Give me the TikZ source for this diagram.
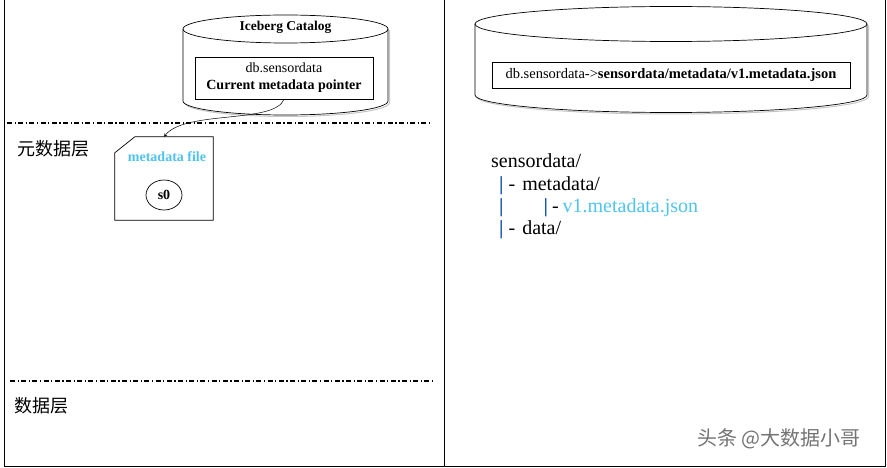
\documentclass[tikz,border=0pt]{standalone}
\usepackage{fontspec}
\setmainfont{Liberation Serif}
\newfontfamily\cjk{Noto Sans CJK SC}
\usetikzlibrary{shapes.geometric,positioning}
\definecolor{filecyan}{RGB}{79,195,240}
\definecolor{pipeblue}{RGB}{20,85,175}
\newcommand{\treepipe}{\textcolor{pipeblue}{\bfseries|}}

\begin{document}
\begin{tikzpicture}[x=1pt, y=-1pt, every node/.style={align=center, inner sep=0pt}, >=stealth]
    % 样式
    \tikzstyle{pointer} = [rectangle, draw=black, line width=0.8pt, fill=white]
    \tikzstyle{file} = [rectangle, minimum width=98pt, minimum height=83pt]
    \tikzstyle{layer} = [line width=1.4pt, dash pattern=on 5pt off 2.5pt on 1.2pt off 2.5pt]
    \tikzstyle{tree} = [anchor=base west, font=\fontsize{20}{24}\selectfont]
    \tikzstyle{zh} = [font=\cjk\fontsize{18}{20}\selectfont]
    \tikzstyle{arrow} = [->, line width=0.5pt]

    \useasboundingbox (0,0) rectangle (887,468);

    % 外框
    \draw[line width=1pt] (4,0) -- (4,466) -- (885,466) -- (885,0);
    \draw[line width=1pt] (444,0) -- (444,466);

    % 左侧 Catalog
    \draw[gray!45, line width=1pt, xshift=1.5pt, yshift=-1.5pt] (183,29) -- (183,101) arc[start angle=180, end angle=0, x radius=102.5, y radius=14] -- (388,29);
    \draw[line width=0.7pt, fill=white] (183,29) -- (183,101) arc[start angle=180, end angle=0, x radius=102.5, y radius=14] -- (388,29);
    \draw[line width=0.7pt] (285.5,29) ellipse [x radius=102.5, y radius=14];
    \node[font=\bfseries\fontsize{13.5}{16}\selectfont] (catalog) at (285.5,27) {Iceberg Catalog};
    \node[pointer, minimum width=178pt, minimum height=42pt, font=\fontsize{14}{17}\selectfont] (ptr) at (284,78) {db.sensordata\\\textbf{Current metadata pointer}};

    % 分层线
    \draw[layer] (7,123) -- (432,123);
    \draw[layer] (10,381) -- (432,381);
    \node[zh] (metalayer) at (53.5,149) {元数据层};
    \node[zh] (datalayer) at (41,406) {数据层};

    % metadata file
    \node[file] (meta) at (164,178.5) {};
    \fill[gray!30, xshift=2.5pt, yshift=-2.5pt] ([xshift=20pt]meta.north west) -- (meta.north east) -- (meta.south east) -- (meta.south west) -- ([yshift=-16pt]meta.north west) -- cycle;
    \draw[line width=0.7pt, fill=white] ([xshift=20pt]meta.north west) -- (meta.north east) -- (meta.south east) -- (meta.south west) -- ([yshift=-16pt]meta.north west) -- cycle;
    \node[font=\bfseries\fontsize{14}{16}\selectfont, text=filecyan] (metaname) at (167,157) {metadata file};
    \node[ellipse, draw, line width=0.7pt, minimum width=36pt, minimum height=30pt, font=\bfseries\fontsize{14}{16}\selectfont] (s0) at (164,195) {s0};

    % 箭头
    \draw[arrow] (ptr.south) .. controls (274,124) and (185,110) .. (meta.north);

    % 右侧 Catalog
    \draw[gray!45, line width=1pt, xshift=1.5pt, yshift=-1.5pt] (475,24) -- (475,95) arc[start angle=180, end angle=0, x radius=196, y radius=17.5] -- (867,24);
    \draw[line width=0.7pt, fill=white] (475,24) -- (475,95) arc[start angle=180, end angle=0, x radius=196, y radius=17.5] -- (867,24);
    \draw[line width=0.7pt] (671,24) ellipse [x radius=196, y radius=17.5];
    \node[pointer, minimum width=358pt, minimum height=26pt, font=\fontsize{14.5}{17}\selectfont] (ptrpath) at (671,75) {db.sensordata->\textbf{sensordata/metadata/v1.metadata.json}};

    % 目录结构
    \node[tree] (root) at (491,168) {sensordata/};
    \node[tree] (dirmeta) at (499,190) {\treepipe\hspace{5pt}-\hspace{7pt}metadata/};
    \node[tree] (jsonfile) at (499,213) {\treepipe\hspace{40pt}\treepipe\hspace{4pt}-\hspace{4pt}\textcolor{filecyan}{v1.metadata.json}};
    \node[tree] (dirdata) at (499,235) {\treepipe\hspace{5pt}-\hspace{7pt}data/};

    % 水印
    \node[font=\cjk\fontsize{20}{22}\selectfont, text=black!55] (mark) at (779,439) {头条 @大数据小哥};
\end{tikzpicture}
\end{document}
